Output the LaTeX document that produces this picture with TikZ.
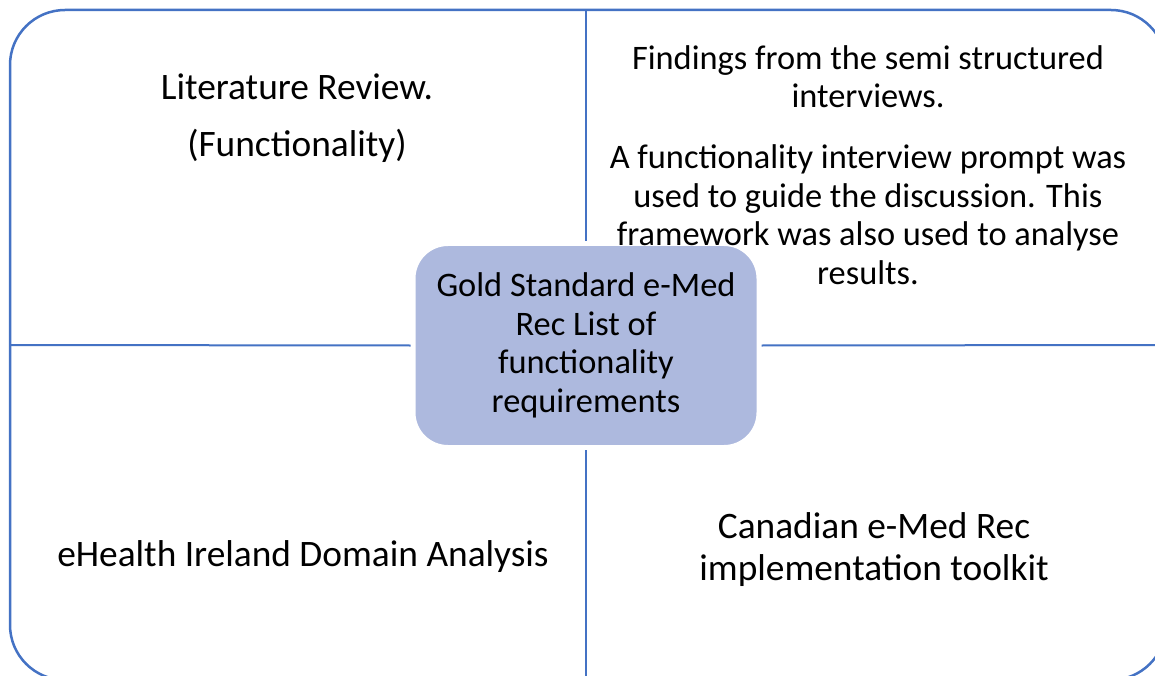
\documentclass[tikz,border=0pt]{standalone}
\usepackage{fontspec}
\setmainfont{Carlito}
\definecolor{frameblue}{HTML}{4472C4}
\definecolor{boxfill}{HTML}{ADB9DE}
\begin{document}
\begin{tikzpicture}[x=1bp,y=-1bp,
  txt/.style={font=\fontsize{34.5}{38.5}\selectfont, align=center, inner sep=0pt, anchor=base, text=black},
  bigtxt/.style={txt, font=\fontsize{37.5}{42}\selectfont},
  divider/.style={draw=frameblue, line width=2bp},
  hub/.style={rectangle, rounded corners=35bp, fill=boxfill, draw=white, line width=5bp,
    minimum width=346bp, minimum height=204bp, inner sep=0pt}]
\useasboundingbox (0,0) rectangle (1155,676);
\fill[white] (0,0) rectangle (1155,676);
\begin{scope}
\clip (0,0) rectangle (1155,676);
\coordinate (ftop) at (586,10);
\coordinate (fbot) at (586,680);
\coordinate (fleft) at (10,345);
\coordinate (fright) at (1166,345);
\draw[frameblue, line width=2.5bp, rounded corners=55bp] (10,10) rectangle (1166,680);
\node[hub] (gold) at (586,345.5) {};
\draw[divider] (ftop) -- (gold.north);
\draw[divider] (gold.south) -- (fbot);
\draw[divider] (fleft) -- (gold.west);
\draw[divider] (gold.east) -- (fright);
\end{scope}
\node[txt] (goldlabel) at (586,412) {Gold Standard e-Med\\Rec List of\\functionality\\requirements};
\node[bigtxt] (lit) at (297,100) {Literature Review.};
\node[bigtxt] (func) at (297,157) {(Functionality)};
\node[txt] (find) at (868,108) {Findings from the semi structured\\interviews.};
\node[txt] (prompt) at (868,284) {A functionality interview prompt was\\used to guide the discussion. This\\framework was also used to analyse\\results.};
\node[bigtxt] (ehealth) at (303,566) {eHealth Ireland Domain Analysis};
\node[bigtxt] (canada) at (874,580) {Canadian e-Med Rec\\implementation toolkit};
\end{tikzpicture}
\end{document}
